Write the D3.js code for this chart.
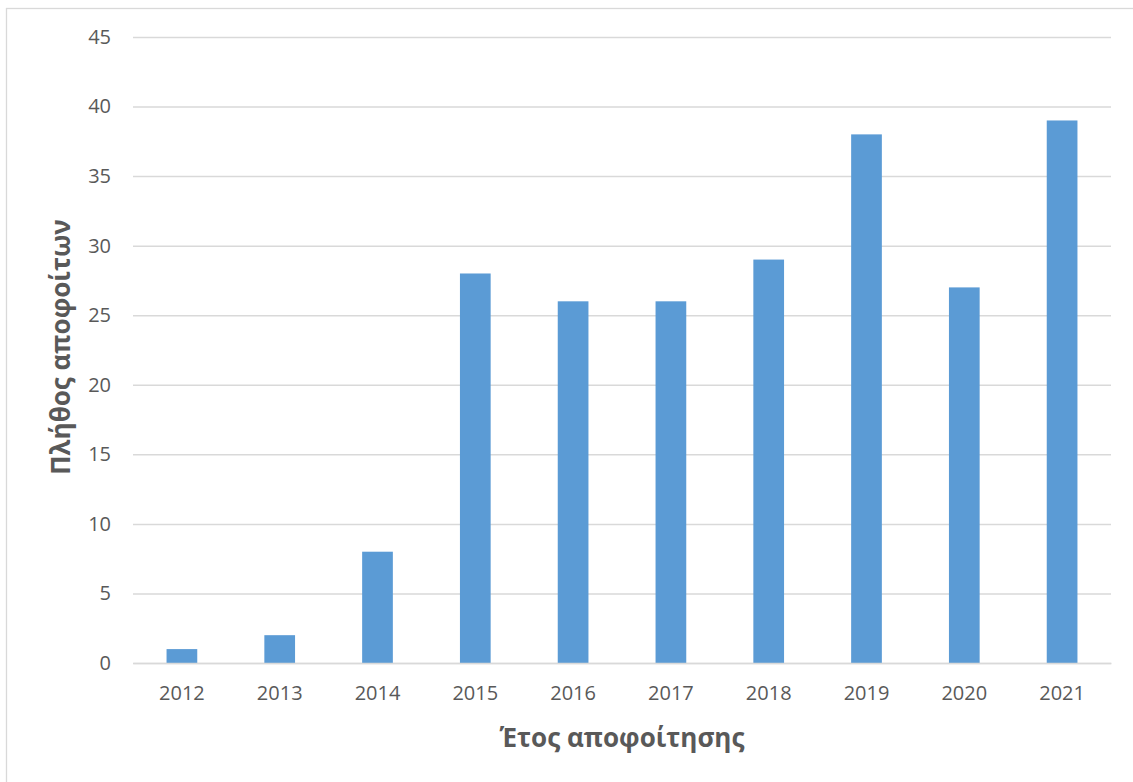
<!DOCTYPE html>
<html>
<head>
<meta charset="utf-8">
<script src="https://cdn.jsdelivr.net/npm/d3@7"></script>
<style>
  html, body { margin: 0; padding: 0; background: #fff; }
  svg { display: block; }
</style>
</head>
<body>
<script>
const years = ["2012","2013","2014","2015","2016","2017","2018","2019","2020","2021"];
const graduates = [1, 2, 8, 28, 26, 26, 29, 38, 27, 39];
const yTicks = [0, 5, 10, 15, 20, 25, 30, 35, 40, 45];
const xTitle = "Έτος αποφοίτησης";
const yTitle = "Πλήθος αποφοίτων";

const W = 1133, H = 782;
const plot = { left: 133, right: 1111, top: 37, bottom: 663 };

const svg = d3.select("body").append("svg").attr("width", W).attr("height", H);

// outer chart border
svg.append("rect")
  .attr("x", 6.5).attr("y", 8.5)
  .attr("width", W + 10).attr("height", H + 10)
  .attr("fill", "#fff").attr("stroke", "#D9D9D9").attr("stroke-width", 1.3);

const x = d3.scaleBand().domain(years).range([plot.left, plot.right]).paddingInner(0.686).paddingOuter(0.343);
const y = d3.scaleLinear().domain([0, 45]).range([plot.bottom, plot.top]);

// gridlines
const yAxis = d3.axisLeft(y).tickValues(yTicks).tickSize(-(plot.right - plot.left)).tickPadding(22);
const gy = svg.append("g").attr("transform", `translate(${plot.left},0)`).call(yAxis);
gy.select(".domain").remove();
gy.selectAll(".tick line").attr("stroke", "#D9D9D9").attr("stroke-width", 1.5);
gy.selectAll(".tick text")
  .attr("fill", "#595959")
  .style("font-family", "'Open Sans', sans-serif")
  .style("font-size", "20px");

// bars
svg.append("g").selectAll("rect").data(years).join("rect")
  .attr("x", d => x(d))
  .attr("width", x.bandwidth())
  .attr("y", (d, i) => y(graduates[i]))
  .attr("height", (d, i) => y(0) - y(graduates[i]))
  .attr("fill", "#5B9BD5");

// x axis
const xAxis = d3.axisBottom(x).tickSize(0).tickPadding(23);
const gx = svg.append("g").attr("transform", `translate(0,${plot.bottom})`).call(xAxis);
gx.select(".domain").attr("stroke", "#D9D9D9").attr("stroke-width", 1.5);
gx.selectAll(".tick text")
  .attr("fill", "#595959")
  .style("font-family", "'Open Sans', sans-serif")
  .style("font-size", "20px");

// axis titles
svg.append("text")
  .attr("x", (plot.left + plot.right) / 2)
  .attr("y", 747)
  .attr("text-anchor", "middle")
  .attr("fill", "#595959")
  .style("font-family", "'Open Sans', sans-serif")
  .style("font-size", "26px")
  .style("font-weight", "bold")
  .text(xTitle);

svg.append("text")
  .attr("transform", `translate(70,347) rotate(-90)`)
  .attr("text-anchor", "middle")
  .attr("fill", "#595959")
  .style("font-family", "'Open Sans', sans-serif")
  .style("font-size", "26px")
  .style("font-weight", "bold")
  .text(yTitle);
</script>
</body>
</html>
